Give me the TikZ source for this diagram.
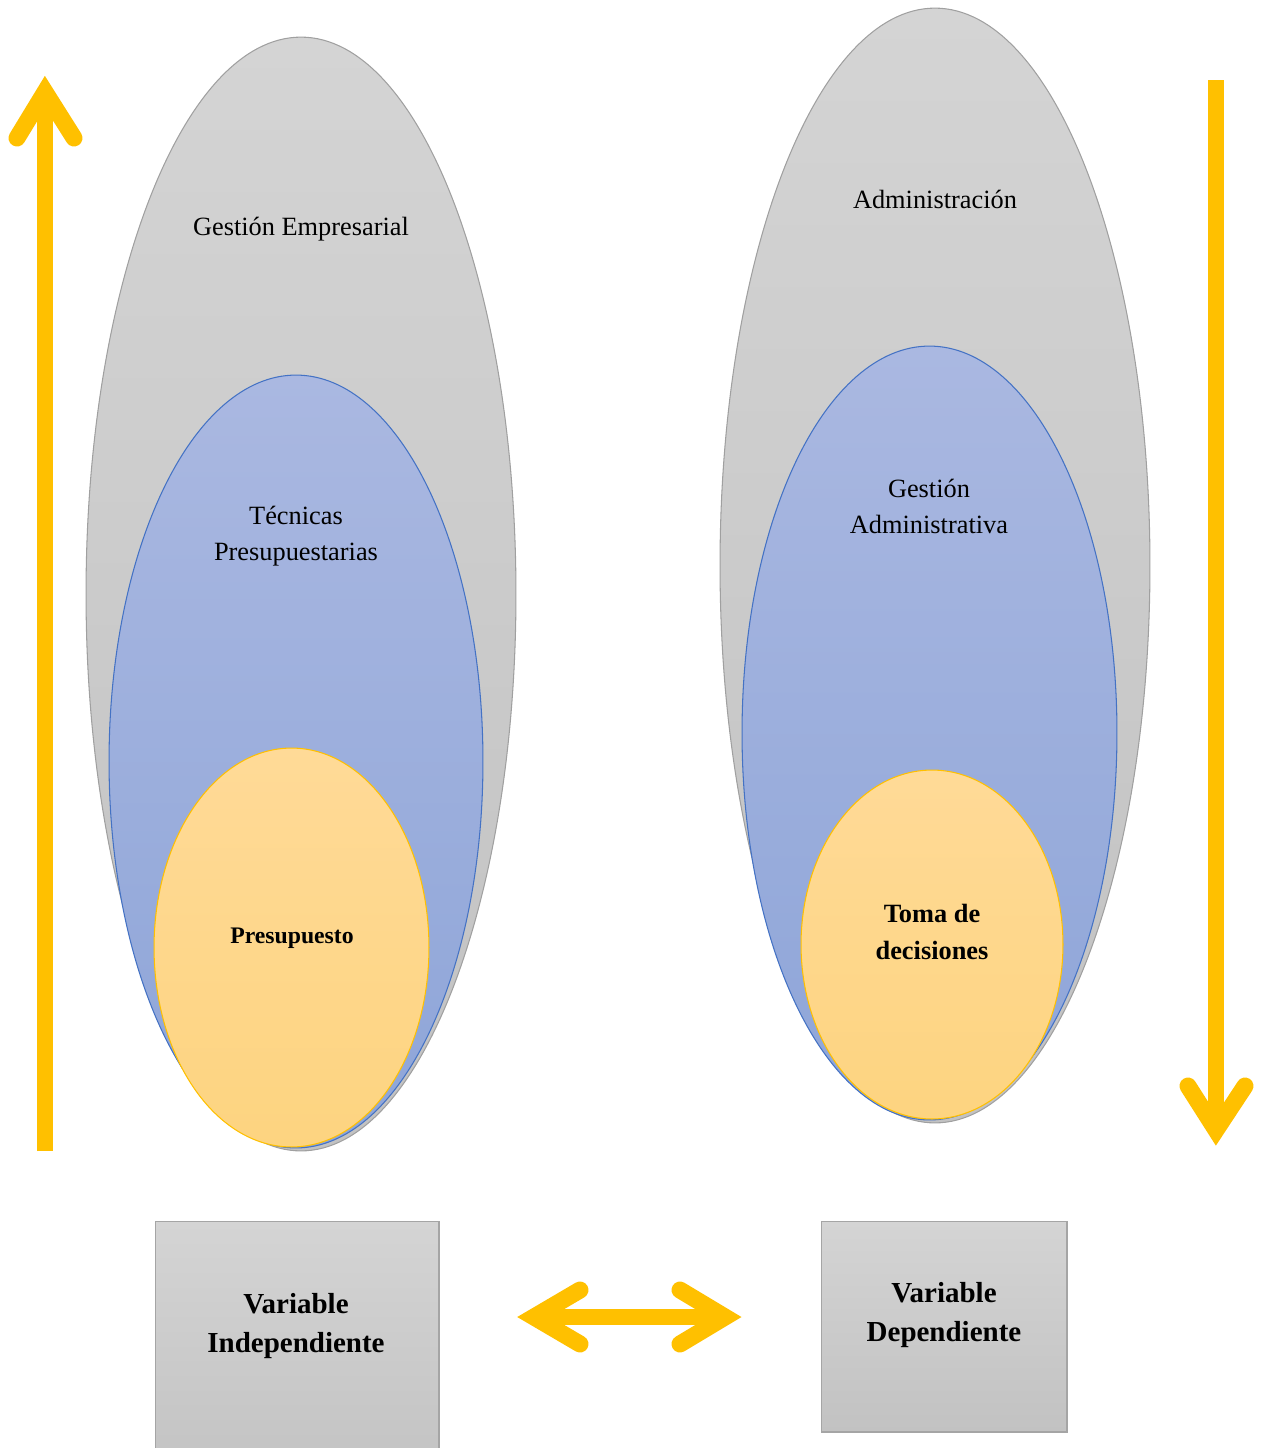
\documentclass[tikz,border=0pt]{standalone}
\usepackage{fontspec}
\setmainfont{Liberation Serif}
\usetikzlibrary{shapes.geometric}

\definecolor{ovalline}{HTML}{A0A0A0}
\definecolor{greytop}{HTML}{D4D4D4}
\definecolor{greybot}{HTML}{C2C2C2}
\definecolor{blueline}{HTML}{4472C4}
\definecolor{bluetop}{HTML}{AAB8E1}
\definecolor{bluebot}{HTML}{8EA5D8}
\definecolor{goldline}{HTML}{FFC000}
\definecolor{goldtop}{HTML}{FFDA97}
\definecolor{goldbot}{HTML}{FDD480}
\definecolor{boxline}{HTML}{A5A5A5}

\tikzset{
	greyoval/.style={ellipse, inner sep=0pt, line width=0.6pt, draw=ovalline, top color=greytop, bottom color=greybot},
	blueoval/.style={ellipse, inner sep=0pt, line width=0.6pt, draw=blueline, top color=bluetop, bottom color=bluebot},
	goldoval/.style={ellipse, inner sep=0pt, line width=0.6pt, draw=goldline, top color=goldtop, bottom color=goldbot},
	varbox/.style={rectangle, inner sep=0pt, line width=0.6pt, draw=boxline, top color=greytop, bottom color=greybot},
	txt/.style={align=center, font=\fontsize{15}{20.5}\selectfont},
	boldtxt/.style={align=center, font=\fontsize{16.5}{22}\selectfont\bfseries},
	shaft/.style={draw=goldline, line width=0.31cm},
	arm/.style={draw=goldline, line width=0.34cm, line cap=round, line join=miter}
}

\begin{document}
\begin{tikzpicture}[x=0.02cm, y=-0.02cm]
	\useasboundingbox (0,0) rectangle (1261,1448);

	% left side
	\node[greyoval, minimum width=8.6cm, minimum height=22.28cm] (gestemp) at (301, 594) {};
	\node[blueoval, minimum width=7.48cm, minimum height=15.46cm] (tecpres) at (296, 761.5) {};
	\node[goldoval, minimum width=5.5cm, minimum height=7.98cm] (presup) at (291.5, 947.5) {};
	\node[txt] (gestemp text) at (301, 229) {Gestión Empresarial};
	\node[txt] (tecpres text) at (296, 536) {Técnicas\\Presupuestarias};
	\node[boldtxt, font=\fontsize{13.5}{18}\selectfont\bfseries] (presup text) at (292, 938) {Presupuesto};

	% right side
	\node[greyoval, minimum width=8.6cm, minimum height=22.3cm] (admin) at (935, 565.5) {};
	\node[blueoval, minimum width=7.5cm, minimum height=15.48cm] (gestadm) at (929.5, 733) {};
	\node[goldoval, minimum width=5.24cm, minimum height=6.98cm] (toma) at (932, 944.5) {};
	\node[txt] (admin text) at (935, 199) {Administración};
	\node[txt] (gestadm text) at (929, 506) {Gestión\\Administrativa};
	\node[boldtxt, font=\fontsize{15}{21}\selectfont\bfseries] (toma text) at (932, 932) {Toma de\\decisiones};

	% variable boxes
	\node[varbox, minimum width=5.68cm, minimum height=5.3cm] (varind) at (297, 1353.5) {};
	\node[varbox, minimum width=4.92cm, minimum height=4.22cm] (vardep) at (944, 1326.5) {};
	\node[boldtxt] (varind text) at (296, 1326) {Variable\\Independiente};
	\node[boldtxt] (vardep text) at (944, 1315) {Variable\\Dependiente};

	% arrows
	\coordinate (upbot) at (45, 1151);
	\coordinate (uptip) at (45, 92);
	\coordinate (upl) at (17, 138);
	\coordinate (upr) at (74, 138);
	\draw[shaft] (upbot) -- (uptip);
	\draw[arm] (upl) -- (uptip) -- (upr);

	\coordinate (downtop) at (1216, 80);
	\coordinate (downtip) at (1216, 1130);
	\coordinate (downl) at (1188, 1086);
	\coordinate (downr) at (1245, 1086);
	\draw[shaft] (downtop) -- (downtip);
	\draw[arm] (downl) -- (downtip) -- (downr);

	\coordinate (lefttip) at (534, 1317);
	\coordinate (righttip) at (725, 1317);
	\draw[shaft, line width=0.32cm] (lefttip) -- (righttip);
	\draw[arm] (580, 1290) -- (lefttip) -- (580, 1344);
	\draw[arm] (680, 1290) -- (righttip) -- (680, 1344);
\end{tikzpicture}
\end{document}
